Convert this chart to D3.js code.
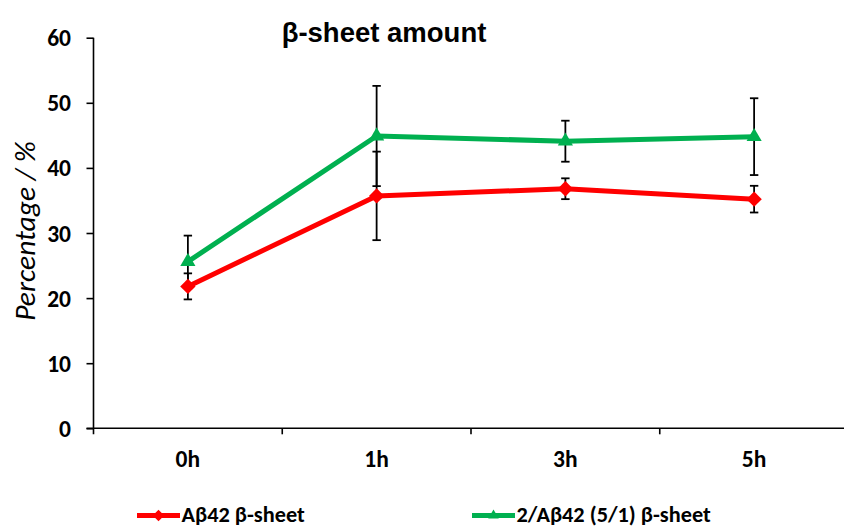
<!DOCTYPE html>
<html>
<head>
<meta charset="utf-8">
<script src="https://cdn.jsdelivr.net/npm/d3@7"></script>
<style>
  html, body { margin: 0; padding: 0; background: #fff; }
  svg { display: block; }
  .tick text, .lbl { font-family: Carlito, Calibri, Lato, sans-serif; font-weight: bold; fill: #000; }
</style>
</head>
<body>
<svg id="chart" width="844" height="530"></svg>
<script>
// Sampling times
const times = ["0h", "1h", "3h", "5h"];
// Mean β-sheet content (%) and standard deviations
const abValues = [21.8, 35.7, 36.8, 35.2];
const abErrors = [2.0, 6.8, 1.6, 2.05];
const mixValues = [25.6, 44.9, 44.1, 44.8];
const mixErrors = [4.0, 7.7, 3.15, 5.9];
const yTicks = [0, 10, 20, 30, 40, 50, 60];

const series = [
  { name: "Aβ42 β-sheet", values: abValues, errors: abErrors, color: "#FF0000", marker: d3.symbolDiamond2, size: 150, legendSize: 85 },
  { name: "2/Aβ42 (5/1) β-sheet", values: mixValues, errors: mixErrors, color: "#00B050", marker: d3.symbolTriangle2, size: 165, legendSize: 80 }
];

const svg = d3.select("#chart");

const x = d3.scaleBand().domain(times).range([93.5, 848.5]);
const y = d3.scaleLinear().domain([0, 60]).range([428.3, 37.7]);
const cx = t => x(t) + x.bandwidth() / 2;

// Y axis
const yAxis = svg.append("g")
  .attr("transform", "translate(93.5,0)")
  .call(d3.axisLeft(y).tickValues(yTicks).tickSize(7).tickPadding(15.5).tickSizeOuter(0));
yAxis.select(".domain").attr("stroke", "#000").attr("stroke-width", 1.6)
  .attr("d", `M0,${y(60)}V${y(0) + 6}`);
yAxis.selectAll(".tick line").attr("stroke", "#000").attr("stroke-width", 1.6);
yAxis.selectAll(".tick text").attr("font-size", 23.5).attr("dy", "0.34em");

// X axis: labels centred in each band, ticks at band boundaries
const xAxis = svg.append("g")
  .attr("transform", `translate(0,${y(0)})`)
  .call(d3.axisBottom(x).tickSize(0).tickPadding(22).tickSizeOuter(0));
xAxis.select(".domain").attr("stroke", "#000").attr("stroke-width", 1.6)
  .attr("d", `M${93.5 - 7},0H${848.5}`);
xAxis.selectAll(".tick text").attr("font-size", 23.5);
xAxis.selectAll(".bound")
  .data(times.slice(1))
  .join("line")
  .attr("class", "bound")
  .attr("x1", t => x(t)).attr("x2", t => x(t))
  .attr("y1", 0).attr("y2", 6)
  .attr("stroke", "#000").attr("stroke-width", 1.6);

// Axis title
svg.append("text")
  .attr("transform", "translate(35,231) rotate(-90)")
  .attr("text-anchor", "middle")
  .attr("font-family", "Carlito, Calibri, Lato, sans-serif")
  .attr("font-style", "italic")
  .attr("font-size", 29.5)
  .text("Percentage / %");

// Chart title
svg.append("text")
  .attr("x", 384).attr("y", 41.5)
  .attr("text-anchor", "middle")
  .attr("font-family", "Arial, 'Liberation Sans', sans-serif")
  .attr("font-weight", "bold")
  .attr("font-size", 27.5)
  .text("β-sheet amount");

const line = d3.line().x((d, i) => cx(times[i])).y(d => y(d));

// Lines
series.forEach(s => {
  svg.append("path")
    .datum(s.values)
    .attr("d", line)
    .attr("fill", "none")
    .attr("stroke", s.color)
    .attr("stroke-width", 5)
    .attr("stroke-linejoin", "round");
});

// Error bars
series.forEach(s => {
  const g = svg.append("g").attr("stroke", "#000").attr("stroke-width", 1.8);
  s.values.forEach((v, i) => {
    const px = cx(times[i]);
    const lo = y(v - s.errors[i]), hi = y(v + s.errors[i]);
    g.append("line").attr("x1", px).attr("x2", px).attr("y1", lo).attr("y2", hi);
    g.append("line").attr("x1", px - 4.2).attr("x2", px + 4.2).attr("y1", lo).attr("y2", lo);
    g.append("line").attr("x1", px - 4.2).attr("x2", px + 4.2).attr("y1", hi).attr("y2", hi);
  });
});

// Markers
series.forEach(s => {
  svg.append("g").selectAll("path")
    .data(s.values)
    .join("path")
    .attr("transform", (d, i) => `translate(${cx(times[i])},${y(d)})`)
    .attr("d", d3.symbol().type(s.marker).size(s.size))
    .attr("fill", s.color);
});

// Legend
const legendPos = [{ x: 137, w: 43 }, { x: 472, w: 43 }];
series.forEach((s, k) => {
  const lp = legendPos[k];
  const g = svg.append("g").attr("transform", `translate(${lp.x},515.5)`);
  g.append("line").attr("x1", 0).attr("x2", lp.w).attr("y1", 0).attr("y2", 0)
    .attr("stroke", s.color).attr("stroke-width", 5);
  g.append("path")
    .attr("transform", `translate(${lp.w / 2},0)`)
    .attr("d", d3.symbol().type(s.marker).size(s.legendSize))
    .attr("fill", s.color);
  g.append("text").attr("class", "lbl")
    .attr("x", lp.w + 1.5).attr("y", 6.5)
    .attr("font-size", 22.3)
    .text(s.name);
});
</script>
</body>
</html>
